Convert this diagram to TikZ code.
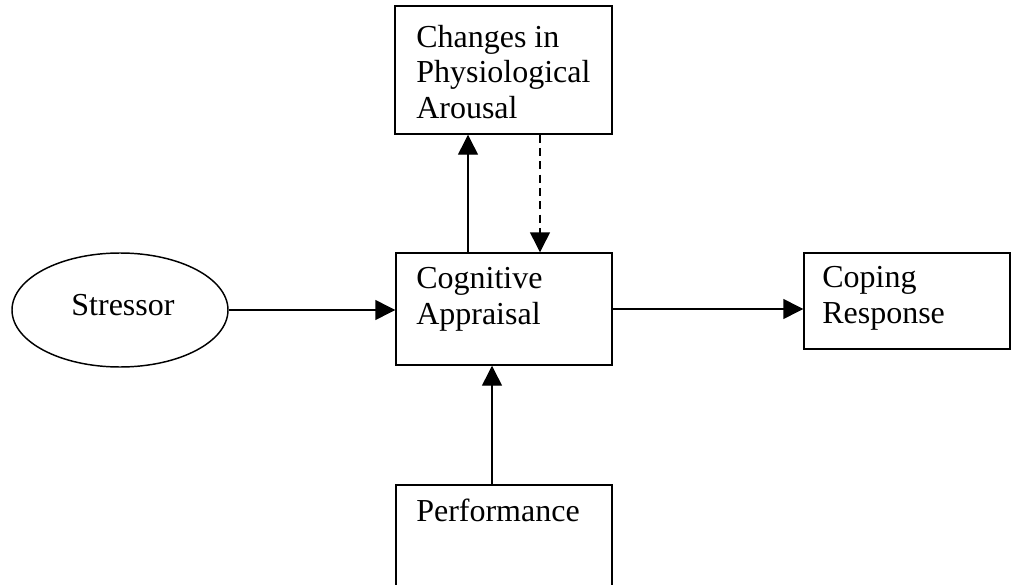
\documentclass[tikz,border=0pt]{standalone}
\usepackage{fontspec}
\setmainfont{Liberation Serif}
\usetikzlibrary{arrows.meta,shapes.geometric}
\begin{document}
\begin{tikzpicture}[x=0.75pt,y=-0.75pt,
  box/.style={draw, line width=1.1pt, rectangle, inner sep=0pt},
  oval/.style={draw, line width=1.1pt, ellipse, inner sep=0pt},
  lbl/.style={anchor=base west, inner sep=0pt, font=\fontsize{24}{26.3}\selectfont, align=left},
  arr/.style={line width=1.1pt, -{Triangle[length=15pt,width=15pt]}},
  dsh/.style={arr, dash pattern=on 6pt off 4pt}]
\useasboundingbox (0,0) rectangle (1011,585);
% shapes
\node[box, minimum width=162.75pt, minimum height=96pt] (phys) at (503.5,70) {};
\node[box, minimum width=162pt, minimum height=84pt] (cog) at (504,309) {};
\node[box, minimum width=154.5pt, minimum height=72pt] (cope) at (907,301) {};
\node[box, minimum width=162pt, minimum height=87pt] (perf) at (504,543) {};
\node[oval, minimum width=162pt, minimum height=85.5pt] (stress) at (120,310) {};
% texts (base anchor = last line)
\node[lbl] (tphys) at (416,118) {Changes in\\Physiological\\Arousal};
\node[lbl] (tcog) at (416,324) {Cognitive\\Appraisal};
\node[lbl] (tcope) at (822,323) {Coping\\Response};
\node[lbl] (tperf) at (416,521) {Performance};
\node[lbl, anchor=base] (tstress) at (123,315) {Stressor};
% helper coordinates
\coordinate (ux) at (468,0);
\coordinate (dx) at (540,0);
\coordinate (px) at (492,0);
% connectors
\draw[arr] (stress.east) -- (stress.east -| cog.west);
\draw[arr] (cog.east) -- (cog.east -| cope.west);
\draw[arr] (cog.north -| ux) -- (phys.south -| ux);
\draw[dsh] (phys.south -| dx) -- (cog.north -| dx);
\draw[arr] (perf.north -| px) -- (cog.south -| px);
\end{tikzpicture}
\end{document}
